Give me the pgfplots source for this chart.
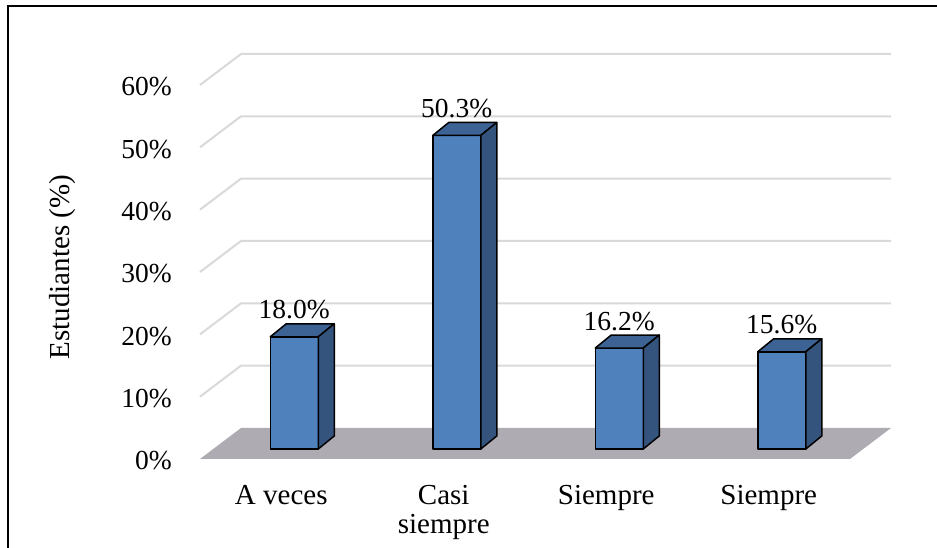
\documentclass[border=0pt]{standalone}
\usepackage{pgfplots}
\pgfplotsset{compat=1.18}
\usepackage{pgfplotstable}
\usepackage{fontspec}
\setmainfont{Liberation Serif}

\definecolor{barfront}{RGB}{79,129,189}
\definecolor{bartop}{RGB}{60,99,148}
\definecolor{barside}{RGB}{52,84,126}
\definecolor{floorgray}{RGB}{174,171,178}
\definecolor{gridgray}{RGB}{217,217,217}

\pgfplotstableread{
x v
0 18.0
1 50.3
2 16.2
3 15.6
}\estudiantes

% 3d bar drawn around the front-plane point (x,v); 1pt here = 1px of the reference
\pgfdeclareplotmark{bar3d}{%
  \pgfmathsetmacro\barlow{10-\barval*6.2333}%
  \pgfmathsetmacro\barback{23-\barval*6.2333}%
  \pgfsetlinewidth{1.5pt}%
  \pgfsetroundjoin
  \pgfsetstrokecolor{black}%
  % front face
  \pgfsetfillcolor{barfront}%
  \pgfpathrectanglecorners{\pgfpoint{-11pt}{\barlow pt}}{\pgfpoint{37pt}{10pt}}%
  \pgfusepath{fill,stroke}%
  % top face
  \pgfsetfillcolor{bartop}%
  \pgfpathmoveto{\pgfpoint{-11pt}{10pt}}%
  \pgfpathlineto{\pgfpoint{37pt}{10pt}}%
  \pgfpathlineto{\pgfpoint{53pt}{23pt}}%
  \pgfpathlineto{\pgfpoint{5pt}{23pt}}%
  \pgfpathclose
  \pgfusepath{fill,stroke}%
  % side face
  \pgfsetfillcolor{barside}%
  \pgfpathmoveto{\pgfpoint{37pt}{10pt}}%
  \pgfpathlineto{\pgfpoint{53pt}{23pt}}%
  \pgfpathlineto{\pgfpoint{53pt}{\barback pt}}%
  \pgfpathlineto{\pgfpoint{37pt}{\barlow pt}}%
  \pgfpathclose
  \pgfusepath{fill,stroke}%
}

\begin{document}
\begin{tikzpicture}[x=1pt,y=1pt]
  \useasboundingbox (0,0) rectangle (937,548);
  \clip (0,0) rectangle (937,548);
  % outer frame (cut at right and bottom as in the reference)
  \draw[line width=2pt] (8,-10) -- (8,542) -- (950,542);

  \begin{axis}[
    at={(200pt,89pt)}, anchor=south west,
    scale only axis, width=650pt, height=374pt,
    xmin=-0.5, xmax=3.5, ymin=0, ymax=60,
    clip=false,
    axis line style={draw=none},
    major tick length=0pt,
    xtick={0,1,2,3},
    xticklabels={A veces, Casi\\siempre, Siempre, Siempre},
    ytick={0,10,...,60},
    yticklabel={\pgfmathprintnumber{\tick}\%},
    /pgf/number format/assume math mode=true,
    yticklabel style={anchor=east, inner sep=0pt, xshift=-28pt, yshift=-2pt,
      font=\fontsize{27.5}{33}\selectfont},
    xticklabel style={anchor=north, inner sep=0pt, yshift=-26pt, align=center,
      font=\fontsize{29}{29}\selectfont},
    ylabel={Estudiantes (\%)},
    ylabel style={at={(axis description cs:-0.2108,0.513)}, anchor=center,
      font=\fontsize{29}{33}\selectfont},
  ]
    % floor
    \fill[floorgray] (axis cs:-0.5,0) -- ++(41pt,31pt) -- ++(650pt,0pt)
      -- (axis cs:3.5,0) -- cycle;
    % back wall gridlines
    \pgfplotsinvokeforeach{10,20,30,40,50,60}{
      \draw[gridgray, line width=2pt] (axis cs:-0.5,#1) -- ++(41pt,31pt) -- ++(650pt,0pt);
    }

    \addplot[scatter, only marks, mark=bar3d, point meta=y,
      visualization depends on={\thisrow{v}\as\barval},
      nodes near coords={\pgfmathprintnumber[fixed,fixed zerofill,precision=1]{\pgfplotspointmeta}\%},
      every node near coord/.append style={anchor=base, inner sep=0pt,
        xshift=13pt, yshift=28pt, black, font=\fontsize{27.5}{33}\selectfont},
    ] table[x=x, y=v] {\estudiantes};
  \end{axis}
\end{tikzpicture}
\end{document}
